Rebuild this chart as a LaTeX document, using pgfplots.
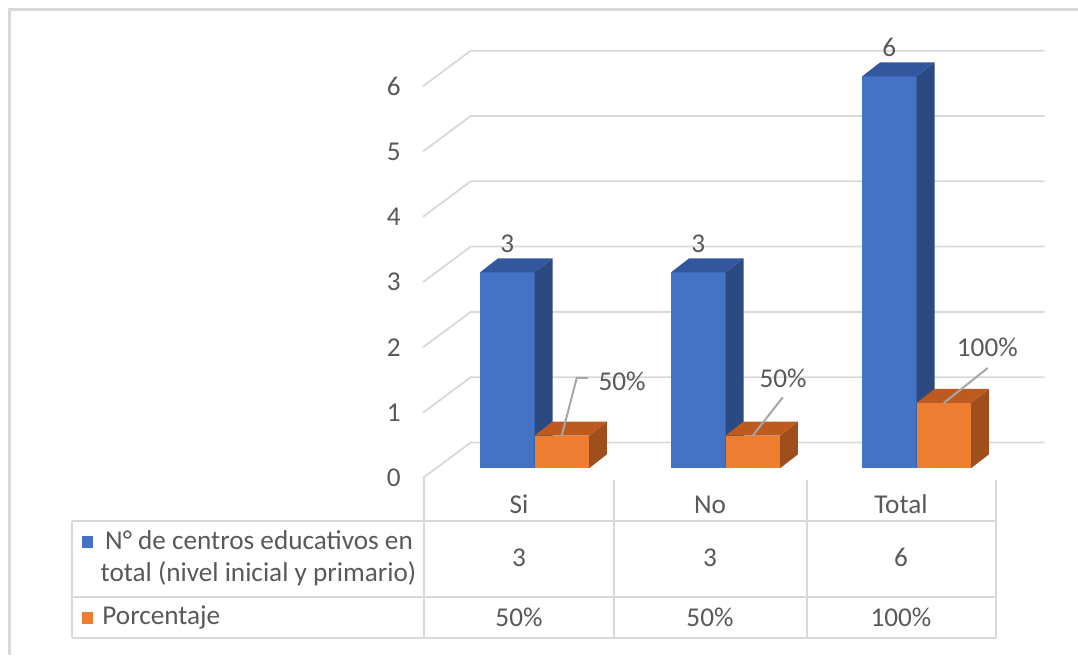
\documentclass[border=0pt]{standalone}
\usepackage{pgfplots}
\pgfplotsset{compat=1.18}
\usepackage{pgfplotstable}
\usepackage{fontspec}
\setmainfont{Carlito}

\definecolor{txt}{HTML}{595959}
\definecolor{gridc}{HTML}{D9D9D9}
\definecolor{leaderc}{HTML}{A6A6A6}
\definecolor{bluefront}{HTML}{4472C4}
\definecolor{bluetop}{HTML}{32579E}
\definecolor{blueside}{HTML}{2B4A82}
\definecolor{orfront}{HTML}{ED7D31}
\definecolor{ortop}{HTML}{BC5A1F}
\definecolor{orside}{HTML}{9E4F1B}

% cat: position, n: number of schools, pct: share (1 = 100%)
% ldx/ldy/hdx: leader line of the percentage label (px), lbx/lby: label offset (px)
\pgfplotstableread{
cat name  n pct ldx ldy  hdx  lbx  lby
0   Si    3 0.5 15  57.7 11.3 60.3 54.5
1   No    3 0.5 30  38.3 0    30.3 57
2   Total 6 1   44  35   0    43.6 55.4
}\datatable

% bar geometry (category / value units)
\def\bw{0.2853}   % width of one bar
\def\ddx{0.0942}  % depth offset, x
\def\ddy{0.2144}  % depth offset, y
\def\pxx{191}     % px per category
\def\pxy{65.3}    % px per value unit

\tikzset{lbl/.style={font=\fontsize{13.6}{16}\selectfont, text=txt, inner sep=0pt}}
\pgfplotsset{
  canvas/.style={scale only axis, width=539pt, height=327.5pt, hide axis,
    clip=false, at={(0,0)}, anchor=south west},
  gridline/.style={draw=gridc, line width=0.9pt, line join=round, forget plot},
  tabline/.style={draw=gridc, line width=0.9pt, forget plot},
}

% a 3D bar: #1 left x, #2 right x, #3 height, #4 colour prefix
\newcommand\cuboid[4]{%
  \pgfmathsetmacro\cxa{#1}\pgfmathsetmacro\cxb{#2}%
  \pgfmathsetmacro\cxc{#2+\ddx}\pgfmathsetmacro\cxd{#1+\ddx}%
  \pgfmathsetmacro\cyt{#3}\pgfmathsetmacro\cyb{#3+\ddy}%
  \edef\next{%
    \noexpand\addplot[fill=#4front, draw=none, forget plot]
      coordinates {(\cxa,0) (\cxb,0) (\cxb,\cyt) (\cxa,\cyt)};
    \noexpand\addplot[fill=#4side, draw=none, forget plot]
      coordinates {(\cxb,0) (\cxc,\ddy) (\cxc,\cyb) (\cxb,\cyt)};
    \noexpand\addplot[fill=#4top, draw=none, forget plot]
      coordinates {(\cxa,\cyt) (\cxb,\cyt) (\cxc,\cyb) (\cxd,\cyb)};
  }\next}

% one category: both bars, data labels and table entries
\newcommand\drawgroup[1]{%
  \pgfplotstablegetelem{#1}{cat}\of\datatable\let\gc\pgfplotsretval
  \pgfplotstablegetelem{#1}{name}\of\datatable\let\gname\pgfplotsretval
  \pgfplotstablegetelem{#1}{n}\of\datatable\let\gn\pgfplotsretval
  \pgfplotstablegetelem{#1}{pct}\of\datatable\let\gp\pgfplotsretval
  \pgfplotstablegetelem{#1}{ldx}\of\datatable\let\gldx\pgfplotsretval
  \pgfplotstablegetelem{#1}{ldy}\of\datatable\let\gldy\pgfplotsretval
  \pgfplotstablegetelem{#1}{hdx}\of\datatable\let\ghdx\pgfplotsretval
  \pgfplotstablegetelem{#1}{lbx}\of\datatable\let\glbx\pgfplotsretval
  \pgfplotstablegetelem{#1}{lby}\of\datatable\let\glby\pgfplotsretval
  \pgfmathparse{int(round(100*\gp))}\let\gpt\pgfmathresult
  \cuboid{\gc-\bw}{\gc}{\gn}{blue}%
  \cuboid{\gc}{\gc+\bw}{\gp}{or}%
  \pgfmathsetmacro\lx{\gc-\bw/2}\pgfmathsetmacro\ly{\gn+29/\pxy}%
  \pgfmathsetmacro\sx{\gc+\bw/2}%
  \pgfmathsetmacro\ex{\sx+\gldx/\pxx}\pgfmathsetmacro\ey{\gp+\gldy/\pxy}%
  \pgfmathsetmacro\hx{\ex+\ghdx/\pxx}%
  \pgfmathsetmacro\tx{\sx+\glbx/\pxx}\pgfmathsetmacro\ty{\gp+\glby/\pxy}%
  \pgfmathsetmacro\colx{\gc-0.0812}%
  \edef\next{%
    \noexpand\node[lbl] at (axis cs:\lx,\ly) {\gn};
    \noexpand\addplot[draw=leaderc, line width=1pt, forget plot]
      coordinates {(\sx,\gp) (\ex,\ey) (\hx,\ey)};
    \noexpand\node[lbl] at (axis cs:\tx,\ty) {\gpt\noexpand\%};
    \noexpand\node[lbl, anchor=base] at (axis cs:\colx,-0.6891) {\gname};
    \noexpand\node[lbl, anchor=base] at (axis cs:\colx,-1.5069) {\gn};
    \noexpand\node[lbl, anchor=base] at (axis cs:\colx,-2.4150) {\gpt\noexpand\%};
  }\next}

\begin{document}
\begin{tikzpicture}
% frame, data table and legend keys (px coordinates)
\begin{axis}[canvas, name=frame, xmin=0, xmax=1078, ymin=0, ymax=655, y dir=reverse]
  \addplot[draw=gridc, line width=1.35pt, forget plot]
    coordinates {(9.7,655) (9.7,9.7) (1078,9.7)};
  \addplot[tabline] coordinates {(71.7,520.7) (996,520.7)};
  \addplot[tabline] coordinates {(71.7,596.7) (996,596.7)};
  \addplot[tabline] coordinates {(71.7,638.3) (996,638.3)};
  \addplot[tabline] coordinates {(71.7,520.7) (71.7,638.3)};
  \addplot[tabline] coordinates {(424,478) (424,638.3)};
  \addplot[tabline] coordinates {(614,480) (614,638.3)};
  \addplot[tabline] coordinates {(807,480) (807,638.3)};
  \addplot[tabline] coordinates {(996,480) (996,638.3)};
  \addplot[fill=bluefront, draw=none, forget plot]
    coordinates {(81.5,535.5) (92.5,535.5) (92.5,547.5) (81.5,547.5)};
  \addplot[fill=orfront, draw=none, forget plot]
    coordinates {(81.5,612) (92.5,612) (92.5,624) (81.5,624)};
  \node[lbl, anchor=base] at (axis cs:259,549.3) {N° de centros educativos en};
  \node[lbl, anchor=base] at (axis cs:258.5,581.7) {total (nivel inicial y primario)};
  \node[lbl, anchor=base west] at (axis cs:102,624.3) {Porcentaje};
\end{axis}
% bars, 3D grid and value axis (category / value coordinates)
\begin{axis}[canvas, xmin=-2.79843, xmax=2.84555, ymin=-2.85911, ymax=7.17152]
  \pgfplotsinvokeforeach{0,...,6}{%
    \pgfmathsetmacro\gyf{#1-0.1485}\pgfmathsetmacro\gyb{#1+0.3951}%
    \edef\next{%
      \noexpand\addplot[gridline]
        coordinates {(-0.58377,\gyf) (-0.33403,\gyb) (2.67016,\gyb)};
      \noexpand\node[lbl, anchor=east] at (axis cs:-0.69895,\gyf) {#1};
    }\next
  }
  \pgfplotsinvokeforeach{0,1,2}{\drawgroup{#1}}
\end{axis}
% the page is exactly the plotting canvas
\pgfresetboundingbox
\path[use as bounding box] (frame.south west) rectangle (frame.north east);
\end{tikzpicture}
\end{document}
